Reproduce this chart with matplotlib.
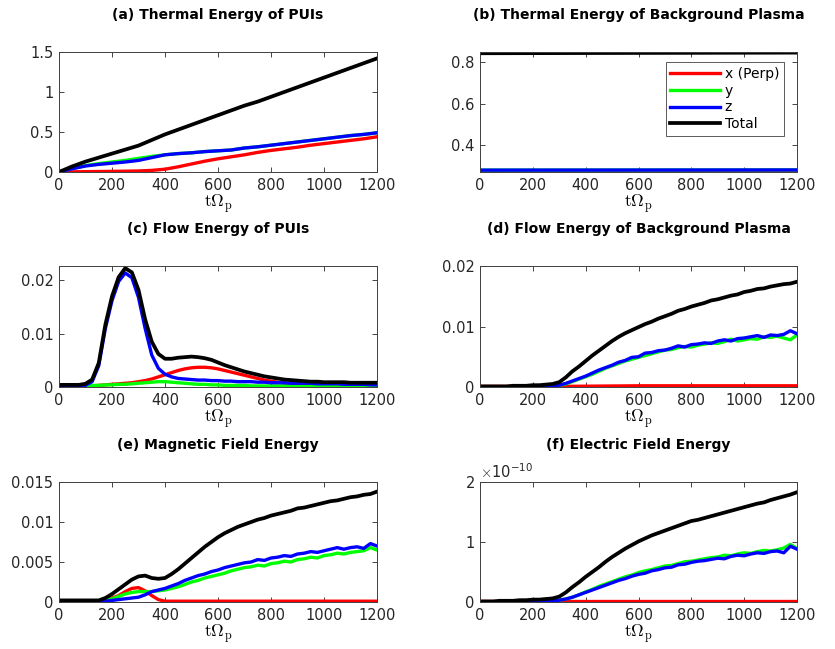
import numpy as np
import matplotlib
matplotlib.use("Agg")
import matplotlib.pyplot as plt
from matplotlib.ticker import FuncFormatter, ScalarFormatter

plt.rcParams['font.family'] = 'DejaVu Sans'
plt.rcParams['mathtext.fontset'] = 'cm'

# time axis (t Omega_p)
t25 = np.arange(0, 1201, 25)
t50 = np.arange(0, 1201, 50)
t_flat = [0, 300, 600, 900, 1200]

# (a) thermal energy of PUIs, t50 grid
a_x = [0, 0.002, 0.004, 0.006, 0.008, 0.01, 0.013, 0.02, 0.035, 0.065, 0.10, 0.135, 0.165,
       0.19, 0.215, 0.245, 0.27, 0.29, 0.31, 0.335, 0.355, 0.375, 0.395, 0.415, 0.44]
a_y = [0, 0.045, 0.08, 0.105, 0.125, 0.145, 0.17, 0.195, 0.215, 0.23, 0.24, 0.255, 0.265,
       0.275, 0.30, 0.315, 0.335, 0.355, 0.375, 0.395, 0.415, 0.435, 0.455, 0.47, 0.49]
a_z = [0, 0.04, 0.075, 0.095, 0.11, 0.125, 0.145, 0.18, 0.215, 0.23, 0.24, 0.255, 0.265,
       0.275, 0.30, 0.315, 0.335, 0.355, 0.375, 0.395, 0.415, 0.435, 0.455, 0.47, 0.49]
a_tot = [0, 0.07, 0.13, 0.18, 0.23, 0.28, 0.33, 0.40, 0.47, 0.53, 0.59, 0.65, 0.71,
         0.77, 0.83, 0.88, 0.94, 1.00, 1.06, 1.12, 1.18, 1.24, 1.30, 1.36, 1.42]

# (b) thermal energy of background plasma
b_t = [0, 1200]
b_x = [0.272, 0.272]
b_y = [0.278, 0.279]
b_z = [0.278, 0.279]
b_tot = [0.844, 0.847]

# (c) flow energy of PUIs, t25 grid
c_x = [0.0001, 0.0001, 0.0001, 0.0001, 0.0001, 0.0002, 0.0003, 0.0004, 0.0005, 0.0006,
       0.0007, 0.0008, 0.0010, 0.0012, 0.0015, 0.0019, 0.0023, 0.0027, 0.0031, 0.0034,
       0.0036, 0.0037, 0.0037, 0.0036, 0.0034, 0.0031, 0.0028, 0.0025, 0.0022, 0.0019,
       0.0016, 0.0013, 0.0011, 0.0009, 0.0007, 0.0006, 0.0005, 0.0004, 0.0004, 0.0003,
       0.0003, 0.0003, 0.0003, 0.0002, 0.0002, 0.0002, 0.0002, 0.0002, 0.0002]
c_y = [0.0002, 0.0002, 0.0002, 0.0002, 0.0002, 0.0003, 0.0003, 0.0004, 0.0004, 0.0005,
       0.0005, 0.0006, 0.0007, 0.0008, 0.0009, 0.0010, 0.0010, 0.0009, 0.0008, 0.0007,
       0.0006, 0.0005, 0.0005, 0.0004, 0.0004, 0.0003, 0.0003, 0.0003, 0.0003, 0.0002,
       0.0002, 0.0002, 0.0002, 0.0002, 0.0002, 0.0002, 0.0001, 0.0001, 0.0001, 0.0001,
       0.0001, 0.0001, 0.0001, 0.0001, 0.0001, 0.0001, 0.0001, 0.0001, 0.0001]
c_z = [0.0002, 0.0002, 0.0002, 0.0002, 0.0003, 0.0010, 0.0040, 0.0110, 0.0162, 0.0198,
       0.0214, 0.0205, 0.0168, 0.0110, 0.0060, 0.0035, 0.0024, 0.0019, 0.0016, 0.0015,
       0.0014, 0.0013, 0.0013, 0.0012, 0.0012, 0.0011, 0.0011, 0.0010, 0.0010, 0.0010,
       0.0009, 0.0009, 0.0008, 0.0008, 0.0008, 0.0007, 0.0007, 0.0007, 0.0007, 0.0006,
       0.0006, 0.0006, 0.0006, 0.0005, 0.0005, 0.0005, 0.0005, 0.0004, 0.0004]
c_tot = [0.0004, 0.0004, 0.0004, 0.0004, 0.0006, 0.0014, 0.0045, 0.0117, 0.0170, 0.0206,
         0.0223, 0.0215, 0.0182, 0.0127, 0.0085, 0.0062, 0.0053, 0.0053, 0.0055, 0.0056,
         0.0057, 0.0056, 0.0054, 0.0051, 0.0046, 0.0041, 0.0037, 0.0033, 0.0029, 0.0026,
         0.0023, 0.0020, 0.0018, 0.0016, 0.0014, 0.0013, 0.0012, 0.0011, 0.0010, 0.0010,
         0.0009, 0.0009, 0.0009, 0.0009, 0.0008, 0.0008, 0.0008, 0.0008, 0.0008]

# (d) flow energy of background plasma, t25 grid
d_x = [0.0001, 0.0001, 0.0002, 0.0002, 0.0002]
d_y = [0, 0, 0, 0, 0, 0, 0, 0, 0, 0.0001, 0.0001, 0.0002, 0.0003, 0.0005, 0.0009, 0.0013,
       0.0017, 0.0021, 0.0026, 0.0031, 0.0035, 0.0039, 0.0043, 0.0046, 0.0049, 0.0052,
       0.0055, 0.0058, 0.0061, 0.0062, 0.0065, 0.0067, 0.0066, 0.0069, 0.0071, 0.0073,
       0.0072, 0.0075, 0.0079, 0.0076, 0.0078, 0.0080, 0.0079, 0.0083, 0.0082, 0.0084,
       0.0081, 0.0078, 0.0086]
d_z = [0, 0, 0, 0, 0, 0, 0, 0, 0, 0.0001, 0.0001, 0.0002, 0.0003, 0.0006, 0.0010, 0.0014,
       0.0018, 0.0023, 0.0028, 0.0032, 0.0036, 0.0041, 0.0044, 0.0049, 0.0050, 0.0056,
       0.0057, 0.0060, 0.0061, 0.0064, 0.0068, 0.0066, 0.0070, 0.0071, 0.0073, 0.0072,
       0.0076, 0.0078, 0.0076, 0.0080, 0.0081, 0.0083, 0.0085, 0.0082, 0.0086, 0.0085,
       0.0087, 0.0093, 0.0088]
d_tot = [0.0001, 0.0001, 0.0001, 0.0001, 0.0001, 0.0002, 0.0002, 0.0002, 0.0003, 0.0003,
         0.0004, 0.0005, 0.0008, 0.0016, 0.0026, 0.0034, 0.0043, 0.0052, 0.0060, 0.0068,
         0.0076, 0.0083, 0.0089, 0.0094, 0.0099, 0.0104, 0.0108, 0.0113, 0.0117, 0.0121,
         0.0126, 0.0129, 0.0133, 0.0136, 0.0139, 0.0143, 0.0145, 0.0148, 0.0151, 0.0153,
         0.0157, 0.0159, 0.0162, 0.0163, 0.0166, 0.0168, 0.0170, 0.0171, 0.0174]

# (e) magnetic field energy, t25 grid
e_x = [0.0001, 0.0001, 0.0001, 0.0001, 0.0001, 0.0001, 0.0001, 0.0002, 0.0005, 0.0008,
       0.0013, 0.0017, 0.0018, 0.0014, 0.0008, 0.0003, 0.0001, 0.0001, 0.0001, 0.0001,
       0.0001, 0.0001, 0.0001, 0.0001, 0.0001, 0.0001, 0.0001, 0.0001, 0.0001, 0.0001,
       0.0001, 0.0001, 0.0001, 0.0001, 0.0001, 0.0001, 0.0001, 0.0001, 0.0001, 0.0001,
       0.0001, 0.0001, 0.0001, 0.0001, 0.0001, 0.0001, 0.0001, 0.0001, 0.0001]
e_y = [0.0001, 0.0001, 0.0001, 0.0001, 0.0001, 0.0001, 0.0001, 0.0002, 0.0004, 0.0007,
       0.0010, 0.0012, 0.0013, 0.0013, 0.0013, 0.0014, 0.0015, 0.0017, 0.0019, 0.0022,
       0.0025, 0.0027, 0.0030, 0.0032, 0.0034, 0.0036, 0.0039, 0.0041, 0.0043, 0.0044,
       0.0046, 0.0045, 0.0048, 0.0049, 0.0051, 0.0050, 0.0053, 0.0054, 0.0056, 0.0055,
       0.0058, 0.0059, 0.0061, 0.0060, 0.0062, 0.0063, 0.0064, 0.0068, 0.0065]
e_z = [0.0001, 0.0001, 0.0001, 0.0001, 0.0001, 0.0001, 0.0001, 0.0001, 0.0002, 0.0003,
       0.0004, 0.0005, 0.0006, 0.0009, 0.0013, 0.0015, 0.0017, 0.0020, 0.0023, 0.0027,
       0.0030, 0.0033, 0.0035, 0.0038, 0.0040, 0.0043, 0.0045, 0.0047, 0.0049, 0.0050,
       0.0053, 0.0052, 0.0055, 0.0056, 0.0058, 0.0057, 0.0060, 0.0061, 0.0063, 0.0062,
       0.0064, 0.0066, 0.0068, 0.0066, 0.0068, 0.0069, 0.0067, 0.0073, 0.0070]
e_tot = [0.0002, 0.0002, 0.0002, 0.0002, 0.0002, 0.0002, 0.0002, 0.0005, 0.0010, 0.0016,
         0.0022, 0.0028, 0.0032, 0.0033, 0.0030, 0.0029, 0.0030, 0.0035, 0.0041, 0.0048,
         0.0055, 0.0062, 0.0069, 0.0075, 0.0081, 0.0086, 0.0090, 0.0094, 0.0097, 0.0100,
         0.0103, 0.0105, 0.0108, 0.0110, 0.0112, 0.0114, 0.0117, 0.0118, 0.0120, 0.0122,
         0.0124, 0.0126, 0.0127, 0.0129, 0.0131, 0.0132, 0.0134, 0.0135, 0.0138]

# (f) electric field energy, in units of 1e-10, t25 grid
f_x = [0.01, 0.01, 0.01, 0.01, 0.01]
f_y = [0, 0, 0, 0, 0, 0, 0, 0, 0, 0.01, 0.01, 0.02, 0.03, 0.05, 0.08, 0.12, 0.17, 0.21,
       0.26, 0.30, 0.34, 0.38, 0.42, 0.45, 0.49, 0.52, 0.54, 0.57, 0.60, 0.61, 0.64, 0.67,
       0.68, 0.70, 0.72, 0.74, 0.75, 0.78, 0.77, 0.80, 0.82, 0.81, 0.84, 0.86, 0.85, 0.87,
       0.90, 0.96, 0.89]
f_z = [0, 0, 0, 0, 0, 0, 0, 0, 0, 0.01, 0.01, 0.02, 0.03, 0.05, 0.08, 0.12, 0.16, 0.20,
       0.24, 0.28, 0.32, 0.36, 0.39, 0.43, 0.46, 0.48, 0.52, 0.54, 0.57, 0.58, 0.62, 0.63,
       0.66, 0.68, 0.69, 0.71, 0.73, 0.72, 0.76, 0.78, 0.77, 0.80, 0.82, 0.81, 0.84, 0.85,
       0.82, 0.93, 0.88]
f_tot = [0.01, 0.01, 0.01, 0.02, 0.02, 0.02, 0.03, 0.03, 0.04, 0.04, 0.05, 0.06, 0.09,
         0.16, 0.25, 0.33, 0.42, 0.50, 0.58, 0.67, 0.75, 0.82, 0.89, 0.95, 1.01, 1.06,
         1.11, 1.15, 1.19, 1.23, 1.27, 1.31, 1.35, 1.37, 1.40, 1.43, 1.46, 1.49, 1.52,
         1.55, 1.58, 1.61, 1.64, 1.66, 1.70, 1.73, 1.76, 1.79, 1.83]

labels = ['x (Perp)', 'y', 'z', 'Total']
colors = ['#ff0000', '#00ff00', '#0000ff', '#000000']
widths_lw = [2.4, 2.4, 2.4, 2.7]
titles = ['(a) Thermal Energy of PUIs', '(b) Thermal Energy of Background Plasma',
          '(c) Flow Energy of PUIs', '(d) Flow Energy of Background Plasma',
          '(e) Magnetic Field Energy', '(f) Electric Field Energy']

fig = plt.figure(figsize=(8.35, 6.49), dpi=100)
W, H = 835.0, 649.0
lefts = [59, 480]
widths = [318, 317]
tops = [52, 266, 482]
heights = [120, 121, 120]

axs = []
for r in range(3):
    for c in range(2):
        ax = fig.add_axes([lefts[c] / W, 1 - (tops[r] + heights[r]) / H,
                           widths[c] / W, heights[r] / H])
        axs.append(ax)

def draw(ax, series, ylim, yticks, title):
    for (tt, yy), col, lw in zip(series, colors, widths_lw):
        ax.plot(tt, yy, color=col, lw=lw)
    ax.set_xlim(0, 1200)
    ax.set_ylim(*ylim)
    ax.set_xticks(range(0, 1201, 200))
    ax.set_yticks(yticks)
    ax.set_title(title, fontsize=10, fontweight='bold', pad=24)
    ax.set_xlabel(r'$\mathrm{t\Omega_p}$', fontsize=12.5, labelpad=0)
    ax.tick_params(direction='in', top=True, right=True, length=3.5, width=0.6,
                   labelsize=10.5, colors='#262626', pad=4)
    for s in ax.spines.values():
        s.set_color('#404040')
        s.set_linewidth(0.7)

fmt = FuncFormatter(lambda v, p: '%g' % v)

draw(axs[0], [(t50, a_x), (t50, a_y), (t50, a_z), (t50, a_tot)],
     (0, 1.5), [0, 0.5, 1, 1.5], titles[0])
draw(axs[1], [(b_t, b_x), (b_t, b_y), (b_t, b_z), (b_t, b_tot)],
     (0.269, 0.850), [0.4, 0.6, 0.8], titles[1])
draw(axs[2], [(t25, c_x), (t25, c_y), (t25, c_z), (t25, c_tot)],
     (0, 0.0227), [0, 0.01, 0.02], titles[2])
draw(axs[3], [(t_flat, d_x), (t25, d_y), (t25, d_z), (t25, d_tot)],
     (0, 0.02), [0, 0.01, 0.02], titles[3])
draw(axs[4], [(t25, e_x), (t25, e_y), (t25, e_z), (t25, e_tot)],
     (0, 0.015), [0, 0.005, 0.01, 0.015], titles[4])
draw(axs[5], [(t_flat, np.array(f_x) * 1e-10), (t25, np.array(f_y) * 1e-10),
              (t25, np.array(f_z) * 1e-10), (t25, np.array(f_tot) * 1e-10)],
     (0, 2e-10), [0, 1e-10, 2e-10], titles[5])

for ax in axs[:5]:
    ax.xaxis.set_major_formatter(fmt)
    ax.yaxis.set_major_formatter(fmt)
axs[5].xaxis.set_major_formatter(fmt)
sf = ScalarFormatter(useMathText=True)
sf.set_powerlimits((0, 0))
axs[5].yaxis.set_major_formatter(sf)
axs[5].yaxis.get_offset_text().set_fontsize(10.5)
axs[5].yaxis.get_offset_text().set_color('#262626')

# legend in (b)
handles = axs[1].get_lines()
leg = axs[1].legend(handles, labels, loc='upper right', bbox_to_anchor=(0.959, 0.917),
                    borderaxespad=0, fontsize=10, handlelength=3.6, handletextpad=0.3,
                    labelspacing=0.2, borderpad=0.35, fancybox=False, framealpha=1)
leg.get_frame().set_edgecolor('#404040')
leg.get_frame().set_linewidth(0.6)

plt.savefig('out.png', dpi=100)
